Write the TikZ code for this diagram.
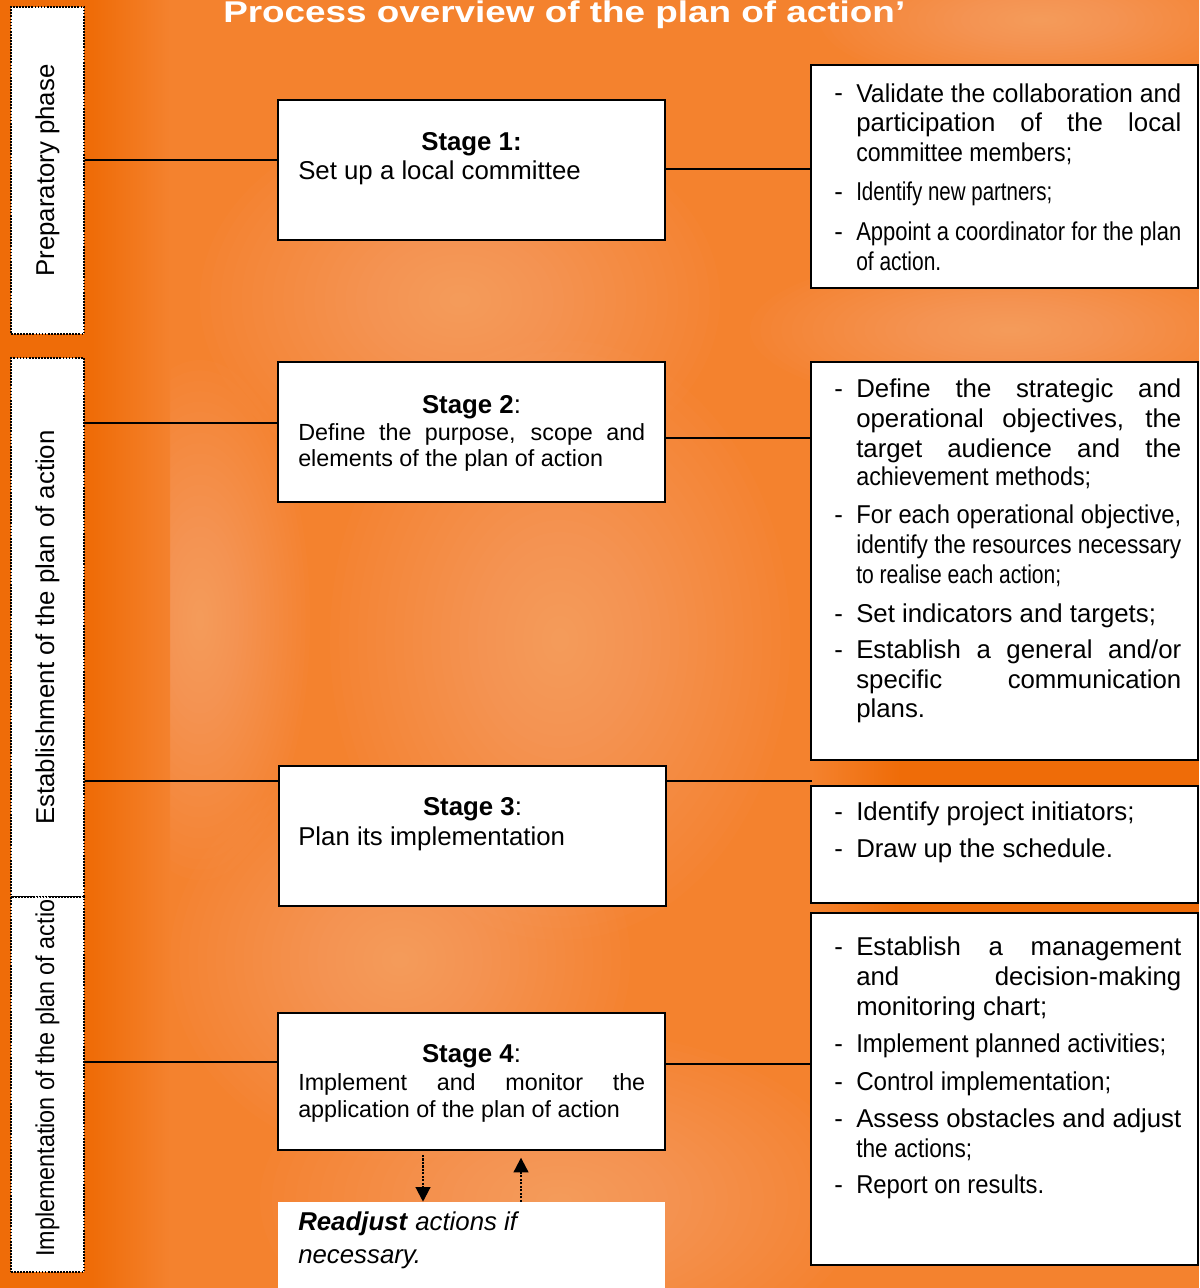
\documentclass[tikz,border=0pt]{standalone}
\usepackage{fontspec}
\usepackage{graphicx}
\setmainfont{Liberation Sans}
\usetikzlibrary{arrows.meta}
\newlength\px \setlength\px{0.75pt}
\newlength\jw
\newsavebox\jbox
% justified line: stretch spaces, or squeeze horizontally if too wide
\newcommand\jl[2]{\setlength\jw{#1\px}\sbox\jbox{#2}\ifdim\wd\jbox>\jw\resizebox{\jw}{\height}{\usebox\jbox}\else\makebox[\jw][s]{#2}\fi}
% free line: squeeze horizontally if wider than given width
\newcommand\fl[2]{\setlength\jw{#1\px}\sbox\jbox{#2}\ifdim\wd\jbox>\jw\resizebox{\jw}{\height}{\usebox\jbox}\else\usebox\jbox\fi}
\newcommand\fa{\fontsize{19.35}{22.3}\selectfont}
\newcommand\fb{\fontsize{17.5}{20.25}\selectfont}
\definecolor{bgor}{RGB}{244,130,46}
\definecolor{darkor}{RGB}{239,108,8}
\definecolor{peach}{RGB}{250,192,145}
\newcommand\blob[5]{\foreach \k in {1,...,25}{\fill[#5, opacity=0.03] (#1,#2) ellipse ({#3*\k/25*0.75pt} and {#4*\k/25*0.75pt});}}
\newcommand\bl[3]{\node[txt] (#1) at (856,#2) {#3};}
\newcommand\dl[2]{\node[txt] (#1) at (834,#2) {-};}
\tikzset{
 txt/.style={anchor=base west, inner sep=0pt, font=\fa},
 ctr/.style={anchor=base, inner sep=0pt, font=\fa},
 stagebox/.style={draw=black, line width=1.5pt, fill=white, inner sep=0pt, minimum width=290.25pt, minimum height=105pt},
 rbox/.style={draw=black, line width=1.5pt, fill=white, inner sep=0pt, minimum width=290.25pt},
 phasebox/.style={draw=black, densely dotted, line width=1.3pt, fill=white, inner sep=0pt, minimum width=54.75pt},
 conn/.style={draw=black, line width=1.2pt},
 dotarrow/.style={draw=black, densely dotted, line width=1.6pt, -{Triangle[length=11pt,width=11pt]}},
}
\begin{document}
\begin{tikzpicture}[x=0.75pt, y=-0.75pt]
\useasboundingbox (0,0) rectangle (1199,1288);
% background
\fill[bgor] (0,0) rectangle (1199,1288);
\blob{460}{300}{260}{190}{peach}
\blob{560}{640}{230}{300}{peach}
\blob{400}{960}{230}{200}{peach}
\blob{560}{1200}{300}{170}{peach}
\blob{1010}{330}{260}{80}{peach}
\blob{1040}{20}{220}{70}{peach}
\blob{200}{620}{110}{260}{peach}
\fill[darkor] (0,0) rectangle (92,1288);
\shade[left color=darkor, right color=bgor] (92,0) rectangle (170,1288);
\shade[left color=bgor, right color=darkor] (811,758) rectangle (900,788);
\fill[darkor] (900,758) rectangle (1199,788);
\shade[left color=bgor, right color=darkor] (811,900) rectangle (900,915);
\fill[darkor] (900,900) rectangle (1199,915);
% title
\node[anchor=base west, inner sep=0pt, text=white] (T) at (223,22)
 {\resizebox{511.5pt}{\height}{\fontsize{22.5}{26}\selectfont\bfseries Process overview of the plan of action’}};
% phase boxes
\node[phasebox, minimum height=245.25pt] (P1) at (47.5,170.5) {};
\node[phasebox, minimum height=404.25pt] (P2) at (47.5,627.5) {};
\node[phasebox, minimum height=281.25pt] (P3) at (47.5,1084.5) {};
\node[txt, rotate=90] (P1t) at (54,277) {Preparatory phase};
\node[txt, rotate=90] (P2t) at (54,825) {Establishment of the plan of action};
\begin{scope}
\clip (11,898) rectangle (84,1272);
\node[txt, rotate=90] (P3t) at (54,1257) {\resizebox{277.5pt}{\height}{Implementation of the plan of action}};
\end{scope}
% stage boxes
\node[stagebox] (S1) at (471.5,170) {};
\node[stagebox] (S2) at (471.5,432) {};
\node[stagebox] (S3) at (472.5,836) {};
\node[stagebox, minimum height=102.75pt] (S4) at (471.5,1081.5) {};
\node[fill=white, inner sep=0pt, minimum width=290.25pt, minimum height=75pt] (RA) at (471.5,1252) {};
\node[ctr] (S1h) at (471.5,150) {\bfseries Stage 1:};
\node[txt] (S1b) at (298,179) {Set up a local committee};
\node[ctr] (S2h) at (471.5,413) {\textbf{Stage 2}:};
\node[txt, font=\fb] (S2b1) at (298,440) {\jl{347}{Define the purpose, scope and}};
\node[txt, font=\fb] (S2b2) at (298,466) {elements of the plan of action};
\node[ctr] (S3h) at (472.5,815) {\textbf{Stage 3}:};
\node[txt] (S3b) at (298,845) {Plan its implementation};
\node[ctr] (S4h) at (471.5,1062) {\textbf{Stage 4}:};
\node[txt, font=\fb] (S4b1) at (298,1090) {\jl{347}{Implement and monitor the}};
\node[txt, font=\fb] (S4b2) at (298,1117) {application of the plan of action};
\node[txt] (RAt1) at (298,1230) {\textbf{\textit{Readjust}} \textit{actions if}};
\node[txt] (RAt2) at (298,1263) {\textit{necessary.}};
% right boxes
\node[rbox, minimum height=167.25pt] (R1) at (1004.5,176.5) {};
\node[rbox, minimum height=298.5pt] (R2) at (1004.5,561) {};
\node[rbox, minimum height=87.75pt] (R3) at (1004.5,844.5) {};
\node[rbox, minimum height=264pt] (R4) at (1004.5,1089) {};
% R1 text
\dl{d11}{102}\bl{r11}{102}{\jl{325}{Validate the collaboration and}}
\bl{r12}{131.5}{\jl{325}{participation of the local}}
\bl{r13}{161}{\fl{216}{committee members;}}
\dl{d12}{200}\bl{r14}{200}{\fl{196}{Identify new partners;}}
\dl{d13}{240}\bl{r15}{240}{\jl{325}{Appoint a coordinator for the plan}}
\bl{r16}{270}{\fl{85}{of action.}}
% R2 text
\dl{d21}{397}\bl{r21}{397}{\jl{325}{Define the strategic and}}
\bl{r22}{427}{\jl{325}{operational objectives, the}}
\bl{r23}{457}{\jl{325}{target audience and the}}
\bl{r24}{485}{\fl{235}{achievement methods;}}
\dl{d22}{523}\bl{r25}{523}{\jl{325}{For each operational objective,}}
\bl{r26}{553}{\jl{325}{identify the resources necessary}}
\bl{r27}{583}{\fl{205}{to realise each action;}}
\dl{d23}{622}\bl{r28}{622}{Set indicators and targets;}
\dl{d24}{658}\bl{r29}{658}{\jl{325}{Establish a general and/or}}
\bl{r2a}{688}{\jl{325}{specific communication}}
\bl{r2b}{717}{plans.}
% R3 text
\dl{d31}{820}\bl{r31}{820}{Identify project initiators;}
\dl{d32}{857}\bl{r32}{857}{Draw up the schedule.}
% R4 text
\dl{d41}{955}\bl{r41}{955}{\jl{325}{Establish a management}}
\bl{r42}{985}{\jl{325}{and decision-making}}
\bl{r43}{1015}{\fl{191}{monitoring chart;}}
\dl{d42}{1052}\bl{r44}{1052}{\fl{310}{Implement planned activities;}}
\dl{d43}{1090}\bl{r45}{1090}{\fl{255}{Control implementation;}}
\dl{d44}{1127}\bl{r46}{1127}{\jl{325}{Assess obstacles and adjust}}
\bl{r47}{1157}{\fl{116}{the actions;}}
\dl{d45}{1193}\bl{r48}{1193}{\fl{188}{Report on results.}}
% connectors
\coordinate (h1) at (0,160);
\coordinate (h2) at (0,169);
\coordinate (h3) at (0,423);
\coordinate (h4) at (0,438);
\coordinate (h5) at (0,781);
\coordinate (h6) at (0,1062);
\coordinate (h7) at (0,1064);
\coordinate (c3) at (812,781);
\draw[conn] (P1.east |- h1) -- (S1.west |- h1);
\draw[conn] (S1.east |- h2) -- (R1.west |- h2);
\draw[conn] (P2.east |- h3) -- (S2.west |- h3);
\draw[conn] (S2.east |- h4) -- (R2.west |- h4);
\draw[conn] (P2.east |- h5) -- (S3.west |- h5);
\draw[conn] (S3.east |- h5) -- (c3);
\draw[conn] (P3.east |- h6) -- (S4.west |- h6);
\draw[conn] (S4.east |- h7) -- (R4.west |- h7);
% readjust arrows
\coordinate (a1) at (423,0);
\coordinate (a2) at (521,0);
\draw[dotarrow, shorten <=3pt] (S4.south -| a1) -- (RA.north -| a1);
\draw[dotarrow, shorten >=5pt] (RA.north -| a2) -- (S4.south -| a2);
\end{tikzpicture}
\end{document}
